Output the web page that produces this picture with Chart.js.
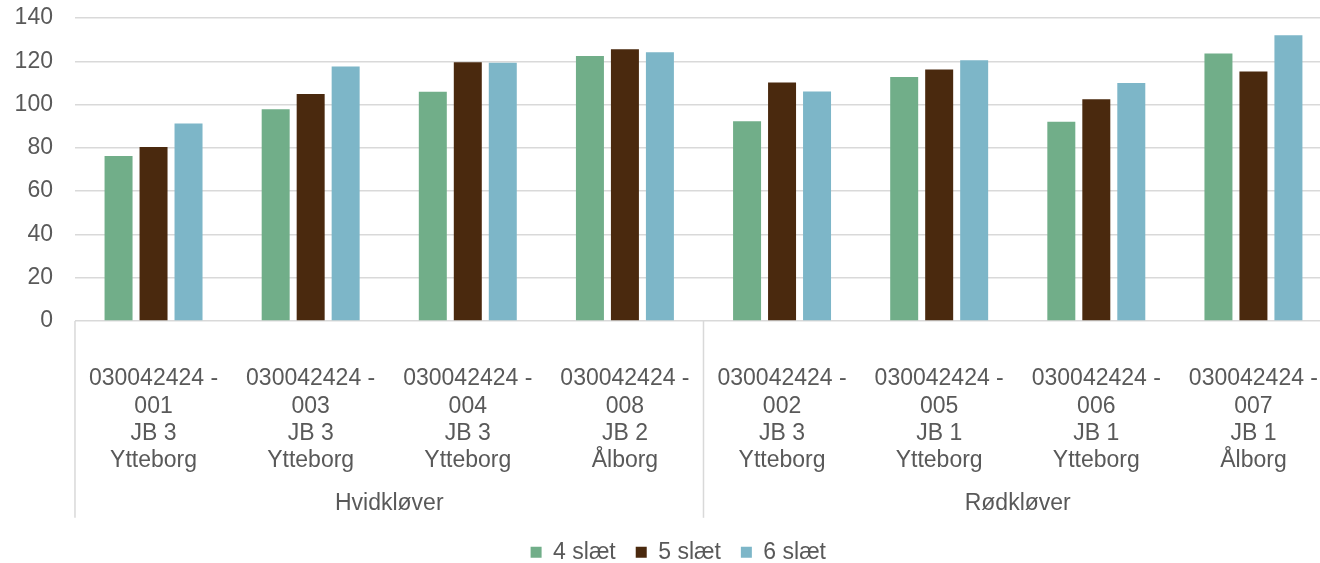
<!DOCTYPE html>
<html>
<head>
<meta charset="utf-8">
<script src="https://cdn.jsdelivr.net/npm/chart.js@4/dist/chart.umd.min.js"></script>
<style>
  html, body { margin: 0; background: #fff; overflow: hidden; }
  /* le graphique d'origine est coupé à droite : le canevas déborde un peu */
  #boite { width: 1332px; height: 563px; }
</style>
</head>
<body>
<div id="boite"><canvas id="graphique"></canvas></div>
<script>
// Sorter (nummer, JB, sted)
const categories = [
	['030042424 -', '001', 'JB 3', 'Ytteborg'],
	['030042424 -', '003', 'JB 3', 'Ytteborg'],
	['030042424 -', '004', 'JB 3', 'Ytteborg'],
	['030042424 -', '008', 'JB 2', 'Ålborg'],
	['030042424 -', '002', 'JB 3', 'Ytteborg'],
	['030042424 -', '005', 'JB 1', 'Ytteborg'],
	['030042424 -', '006', 'JB 1', 'Ytteborg'],
	['030042424 -', '007', 'JB 1', 'Ålborg']
];
const groupes = ['Hvidkløver', 'Rødkløver'];

const slaet4 = [76.2, 97.8, 105.9, 122.5, 92.3, 112.7, 92.1, 123.6];
const slaet5 = [80.4, 104.9, 119.6, 125.6, 110.2, 116.2, 102.5, 115.3];
const slaet6 = [91.2, 117.6, 119.3, 124.2, 106.0, 120.5, 110.0, 132.0];

const couleurTexte = '#595959';
const couleurGrille = '#d9d9d9';
const transparent = 'rgba(0,0,0,0)';
const police = { family: "'Liberation Sans', Arial, sans-serif", size: 23 };

// lignes verticales entre les groupes, sous l'axe
const separateurs = {
	id: 'separateurs',
	afterDraw(chart) {
		const x = chart.scales.x;
		const x2 = chart.scales.x2;
		const ctx = chart.ctx;
		const milieu = (x.getPixelForTick(3) + x.getPixelForTick(4)) / 2;
		const bas = x2.top + 12.4 + 27.6;
		ctx.save();
		ctx.strokeStyle = couleurGrille;
		ctx.lineWidth = 1.5;
		for (const px of [x.left, milieu]) {
			ctx.beginPath();
			ctx.moveTo(px, chart.chartArea.bottom);
			ctx.lineTo(px, bas);
			ctx.stroke();
		}
		ctx.restore();
	}
};

// la légende est un peu décalée vers la droite
const decalageLegende = {
	id: 'decalageLegende',
	afterLayout(chart) {
		chart.legend.left += 6.5;
		chart.legend.right += 6.5;
	}
};

new Chart(document.querySelector('#graphique'), {
	type: 'bar',
	data: {
		labels: categories,
		datasets: [
			{ label: '4 slæt', data: slaet4, backgroundColor: '#71ae89' },
			{ label: '5 slæt', data: slaet5, backgroundColor: '#4a290e' },
			{ label: '6 slæt', data: slaet6, backgroundColor: '#7db6c8' }
		]
	},
	options: {
		responsive: true,
		maintainAspectRatio: false,
		animation: false,
		categoryPercentage: 0.668,
		barPercentage: 0.8,
		layout: { padding: { top: 18, left: 11.6, right: 0, bottom: -10.8 } },
		scales: {
			y: {
				min: 0,
				max: 140,
				ticks: { stepSize: 20, color: couleurTexte, font: police, padding: 3 },
				grid: { color: couleurGrille, lineWidth: 1.5, drawTicks: true, tickLength: 19, tickColor: transparent },
				border: { display: false }
			},
			x: {
				weight: 0,
				ticks: { color: couleurTexte, font: { ...police, lineHeight: 1.19 }, padding: 3, maxRotation: 0, autoSkip: false },
				grid: { display: true, drawOnChartArea: false, drawTicks: true, tickLength: 41.3, tickColor: transparent },
				border: { display: false }
			},
			x2: {
				type: 'category',
				position: 'bottom',
				weight: 1,
				labels: groupes,
				offset: true,
				ticks: { color: couleurTexte, font: police, padding: 3 },
				grid: { display: true, drawOnChartArea: false, drawTicks: true, tickLength: 9.4, tickColor: transparent },
				border: { display: false }
			}
		},
		plugins: {
			legend: {
				position: 'bottom',
				labels: {
					color: couleurTexte,
					font: police,
					boxWidth: 11,
					boxHeight: 11,
					padding: 20
				}
			},
			tooltip: { enabled: false }
		}
	},
	plugins: [separateurs, decalageLegende]
});
</script>
</body>
</html>
